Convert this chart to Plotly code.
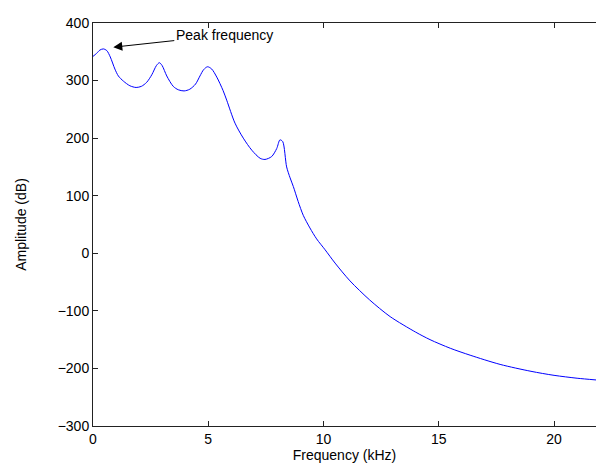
import plotly.graph_objects as go

freq_khz = [0.0, 0.15, 0.3, 0.45, 0.6, 0.75, 0.95, 1.1, 1.32, 1.6, 1.87, 2.1, 2.33,
            2.55, 2.75, 2.88, 3.0, 3.2, 3.48, 3.7, 3.95, 4.2, 4.45, 4.64, 4.8, 4.97,
            5.15, 5.37, 5.64, 5.8, 6.16, 6.52, 6.89, 7.25, 7.46, 7.75, 7.97, 8.11,
            8.23, 8.4, 8.55, 8.69, 8.9, 9.12, 9.41, 9.7, 10.07, 10.5, 11.15, 12.0,
            12.89, 14.0, 14.62, 15.5, 16.36, 17.66, 19.0, 20.0, 21.0, 21.82]
amplitude_db = [342, 347, 353, 355, 352, 341, 320, 308, 299, 291, 288, 290, 297,
                310, 326, 331, 326, 308, 290, 284, 282, 285, 294, 308, 319, 324,
                320, 306, 283, 266, 226, 200, 179, 165, 163, 168, 182, 197,
                194, 150, 131, 116, 90, 66, 44, 25, 6, -17, -48, -81,
                -110, -137, -150, -165, -177, -193, -205, -212, -217, -220]

x_ticks = [0, 5, 10, 15, 20]
y_ticks = [-300, -200, -100, 0, 100, 200, 300, 400]

fig = go.Figure()
fig.add_trace(go.Scatter(x=freq_khz, y=amplitude_db, mode="lines",
                         line=dict(color="#0000ff", width=1, shape="spline", smoothing=0.8),
                         showlegend=False))

font = dict(family="Liberation Sans, Arial", size=14, color="black")

fig.add_annotation(x=0.88, y=358, xref="x", yref="y", text="Peak frequency",
                   showarrow=True, ax=111, ay=-12, arrowhead=2, arrowsize=1.8,
                   arrowwidth=1, arrowcolor="black", font=font)

fig.update_layout(
    width=596, height=463,
    margin=dict(l=93, r=0, t=23, b=37),
    paper_bgcolor="white", plot_bgcolor="white",
    font=font,
    xaxis=dict(range=[0, 21.82], tickvals=x_ticks, ticks="inside", ticklen=5,
               showline=True, linecolor="#222", linewidth=1, mirror="ticks",
               tickcolor="#222", showgrid=False, zeroline=False,
               title=dict(text="Frequency (kHz)", standoff=4, font=font)),
    yaxis=dict(range=[-300, 400], tickvals=y_ticks, ticks="inside", ticklen=5,
               showline=True, linecolor="#222", linewidth=1,
               tickcolor="#222", showgrid=False, zeroline=False,
               title=dict(text="Amplitude (dB)", standoff=27, font=font)),
)

fig.write_html("out.html",
               config={"displayModeBar": False},
               post_script="document.body.style.margin='0';"
                           "document.documentElement.style.overflow='hidden';")
